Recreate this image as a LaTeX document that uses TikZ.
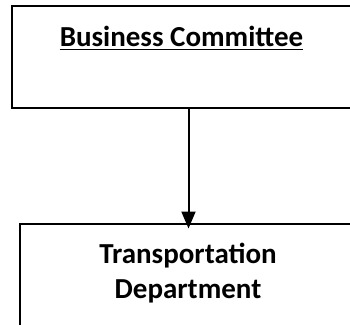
\documentclass[tikz,border=0pt]{standalone}
\usepackage{fontspec}
\setmainfont{Carlito}
\usetikzlibrary{arrows.meta,positioning}

\begin{document}
\begin{tikzpicture}[x=1pt,y=-1pt,
    box/.style={rectangle, anchor=north west, inner sep=0pt},
    edge/.style={line width=2pt},
    title/.style={font=\fontsize{29}{35}\selectfont\bfseries, inner sep=0pt, align=center}]
    \clip (0,0) rectangle (350,324);

    % Boxes (their right sides lie past the edge of the picture)
    \node[box, minimum width=400pt, minimum height=102.5pt] (committee) at (11.5,5.5) {};
    \node[box, minimum width=400pt, minimum height=130pt] (transport) at (20,223.5) {};
    \draw[edge] (committee.north east) -- (committee.north west) -- (committee.south west) -- (committee.south east);
    \draw[edge] (transport.north east) -- (transport.north west) -- (transport.south west);

    % Labels
    \node[title, anchor=base] (committeeLabel) at (181.5,46) {Business Committee};
    \draw[line width=1.8pt] ([yshift=-3.5pt]committeeLabel.base west) -- ([yshift=-3.5pt]committeeLabel.base east);
    \node[title, anchor=north] (transportLabel) at (188,243) {Transportation\\Department};

    % Arrow
    \coordinate (link) at (188.5,0);
    \draw[edge, -{Triangle[length=17pt, width=14pt]}] (committee.south -| link) -- ([yshift=-5pt]transport.north -| link);
\end{tikzpicture}
\end{document}
